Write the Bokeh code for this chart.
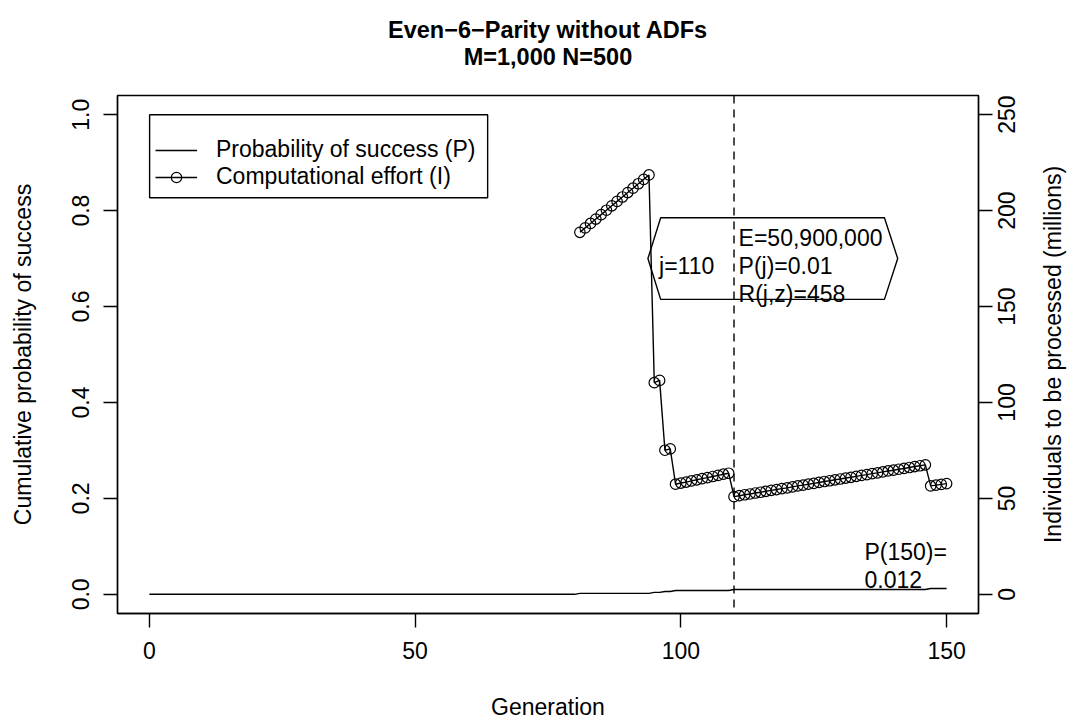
import math
from bokeh.plotting import figure
from bokeh.models import (Range1d, LinearAxis, FixedTicker, NumeralTickFormatter,
                          CustomJSTickFormatter, Span, Label, PolyAnnotation,
                          BoxAnnotation, Legend, LegendItem)
from bokeh.embed import file_html
from bokeh.resources import INLINE

# ---------------- data ----------------
generation = list(range(0, 151))
prob_success = [
    0, 0, 0, 0, 0, 0, 0, 0, 0, 0, 0, 0, 0, 0, 0, 0, 0, 0, 0, 0,
    0, 0, 0, 0, 0, 0, 0, 0, 0, 0, 0, 0, 0, 0, 0, 0, 0, 0, 0, 0,
    0, 0, 0, 0, 0, 0, 0, 0, 0, 0, 0, 0, 0, 0, 0, 0, 0, 0, 0, 0,
    0, 0, 0, 0, 0, 0, 0, 0, 0, 0, 0, 0, 0, 0, 0, 0, 0, 0, 0, 0,
    0,                                                   # gen 80
    0.002, 0.002, 0.002, 0.002, 0.002, 0.002, 0.002,     # 81-87
    0.002, 0.002, 0.002, 0.002, 0.002, 0.002, 0.002,     # 88-94
    0.004, 0.004,                                        # 95-96
    0.006, 0.006,                                        # 97-98
    0.008, 0.008, 0.008, 0.008, 0.008, 0.008,            # 99-104
    0.008, 0.008, 0.008, 0.008, 0.008,                   # 105-109
    0.010, 0.010, 0.010, 0.010, 0.010, 0.010, 0.010, 0.010, 0.010, 0.010,  # 110-119
    0.010, 0.010, 0.010, 0.010, 0.010, 0.010, 0.010, 0.010, 0.010, 0.010,  # 120-129
    0.010, 0.010, 0.010, 0.010, 0.010, 0.010, 0.010, 0.010, 0.010, 0.010,  # 130-139
    0.010, 0.010, 0.010, 0.010, 0.010, 0.010, 0.010,                      # 140-146
    0.012, 0.012, 0.012, 0.012,                                            # 147-150
]
effort_generation = list(range(81, 151))
effort_millions = [
    188.7, 191.0, 193.3, 195.6, 197.9, 200.2, 202.5, 204.8, 207.1, 209.4,  # 81-90
    211.7, 214.0, 216.3, 218.6,                                            # 91-94
    110.3, 111.5,                                                          # 95-96
    75.1, 75.8,                                                            # 97-98
    57.4, 58.0, 58.5, 59.1, 59.7, 60.3, 60.8, 61.4, 62.0, 62.6, 63.1,      # 99-109
    50.9, 51.4, 51.9, 52.3, 52.8, 53.2, 53.7, 54.2, 54.6, 55.1,            # 110-119
    55.5, 56.0, 56.5, 56.9, 57.4, 57.8, 58.3, 58.8, 59.2, 59.7,            # 120-129
    60.1, 60.6, 61.0, 61.5, 62.0, 62.4, 62.9, 63.3, 63.8, 64.3,            # 130-139
    64.7, 65.2, 65.6, 66.1, 66.6, 67.0, 67.5,                              # 140-146
    56.5, 56.9, 57.3, 57.7,                                                # 147-150
]
x_ticks = [0, 50, 100, 150]
y_ticks = [0.0, 0.2, 0.4, 0.6, 0.8, 1.0]
y2_ticks = [0, 50, 100, 150, 200, 250]
best_gen = 110
best_E = "50,900,000"
best_P = "0.01"
best_R = "458"
final_gen = 150
final_P = "0.012"

title_lines = ["Even\u22126\u2212Parity without ADFs", "M=1,000 N=500"]
x_label = "Generation"
y_label = "Cumulative probability of success"
y2_label = "Individuals to be processed (millions)"
legend_labels = ["Probability of success (P)", "Computational effort (I)"]

# ---------------- layout ----------------
FONT = "Liberation Sans"
FS = "23px"
FS_PX = 23.0
W, H = 1082, 726
BL, BR, BT, BB = 117, 99, 95, 113
XR = (-6, 156)
YR = (-0.04, 1.04)
Y2R = (-10, 260)
LW = 1.4
FRAME_H = H - BT - BB
X_MID = (XR[0] + XR[1]) / 2
Y2_PER_PX = (Y2R[1] - Y2R[0]) / FRAME_H


def rx(px):  # page px -> data x
    return XR[0] + (px - BL) / (W - BL - BR) * (XR[1] - XR[0])


def ry(py):  # page px -> data y
    return YR[1] - (py - BT) / FRAME_H * (YR[1] - YR[0])


def text_len_px(s):
    """Approximate advance of a string in Liberation Sans (Arial metrics)."""
    widths = {"0": .556, "1": .556, "2": .556, "5": .556, " ": .278, "(": .333,
              ")": .333, "I": .278, "i": .222, "l": .222, "t": .278, "r": .333,
              "m": .833, "v": .5, "s": .5, "c": .5}
    return sum(widths.get(ch, .556) for ch in s) * FS_PX


p = figure(width=W, height=H, x_range=Range1d(*XR), y_range=Range1d(*YR),
           output_backend="svg", toolbar_location=None,
           min_border_left=BL, min_border_right=BR,
           min_border_top=BT, min_border_bottom=BB)
p.extra_y_ranges = {"effort": Range1d(*Y2R)}
p.xgrid.grid_line_color = None
p.ygrid.grid_line_color = None
p.background_fill_color = "white"
p.border_fill_color = "white"
p.outline_line_color = "black"
p.outline_line_width = LW


def style_axis(ax, standoff, size=FS, bold=False):
    ax.axis_line_color = "black"
    ax.axis_line_width = LW
    ax.major_tick_line_color = "black"
    ax.major_tick_line_width = LW
    ax.major_tick_out = 14
    ax.major_tick_in = 0
    ax.minor_tick_line_color = None
    ax.major_label_text_font = FONT
    ax.major_label_text_font_size = size
    ax.major_label_text_font_style = "bold" if bold else "normal"
    ax.major_label_text_color = "black"
    ax.major_label_standoff = standoff
    ax.axis_label_text_font = FONT
    ax.axis_label_text_font_size = size
    ax.axis_label_text_font_style = "normal"
    ax.axis_label_text_color = "black"


p.xaxis.ticker = FixedTicker(ticks=x_ticks)
p.yaxis[0].ticker = FixedTicker(ticks=y_ticks)
p.yaxis[0].formatter = NumeralTickFormatter(format="0.0")
style_axis(p.xaxis[0], 14)
style_axis(p.yaxis[0], 14)
p.yaxis[0].major_label_orientation = "parallel"

p.xaxis[0].axis_label = x_label
p.xaxis[0].axis_label_standoff = 32
p.yaxis[0].axis_label = y_label
p.yaxis[0].axis_label_standoff = 34

# right axis: tick marks only (labels are drawn by a bare axis just outside it)
right_axis = LinearAxis(y_range_name="effort", ticker=FixedTicker(ticks=y2_ticks),
                        formatter=CustomJSTickFormatter(code="return ''"))
style_axis(right_axis, 0)
p.add_layout(right_axis, "right")


def text_axis(side, labels, standoff, size=FS, bold=False, orientation="horizontal",
              range_name=None):
    """A bare axis that only carries text labels at the given positions."""
    kw = {"y_range_name": range_name} if range_name else {}
    ax = LinearAxis(ticker=FixedTicker(ticks=list(labels.keys())),
                    major_label_overrides=labels, **kw)
    style_axis(ax, standoff, size=size, bold=bold)
    ax.axis_line_color = None
    ax.major_tick_line_color = None
    ax.major_tick_out = 0
    ax.major_label_orientation = orientation
    p.add_layout(ax, side)
    return ax


# Bokeh starts bottom-up rotated labels at their anchor; shift each anchor down
# by half its text length so the labels sit centred on their ticks like R's.
right_tick_labels = {t - text_len_px(str(t)) / 2 * Y2_PER_PX: str(t) for t in y2_ticks}
text_axis("right", right_tick_labels, 14, orientation=math.pi / 2, range_name="effort")
y2_mid = (Y2R[0] + Y2R[1]) / 2
text_axis("right", {y2_mid - text_len_px(y2_label) / 2 * Y2_PER_PX: y2_label}, 27,
          orientation=math.pi / 2, range_name="effort")

# two-line bold main title (inner line first)
text_axis("above", {X_MID: title_lines[1]}, 26, size="23.5px", bold=True)
text_axis("above", {X_MID: title_lines[0]}, -2, size="23.5px", bold=True)

# ---------------- data glyphs ----------------
p_line = p.line(generation, prob_success, line_color="black", line_width=LW)
e_line = p.line(effort_generation, effort_millions, line_color="black",
                line_width=LW, y_range_name="effort")
e_pts = p.scatter(effort_generation, effort_millions, marker="circle", size=10.5,
                  fill_alpha=0, line_color="black", line_width=1.2,
                  y_range_name="effort")

p.add_layout(Span(location=best_gen, dimension="height", line_color="black",
                  line_width=LW, line_dash="8 6"))

# annotation shape around the best generation
hx = [best_gen - 16.2, best_gen - 13.8, best_gen + 28.3, best_gen + 30.8,
      best_gen + 28.3, best_gen - 13.8]
hy = [0.70, 0.785, 0.785, 0.70, 0.615, 0.615]
p.add_layout(PolyAnnotation(xs=hx, ys=hy, fill_alpha=0, line_color="black",
                            line_alpha=1.0, line_width=LW))


def label(x, y, text, align="left", size=FS):
    p.add_layout(Label(x=x, y=y, text=text, text_align=align,
                       text_baseline="alphabetic", text_font=FONT,
                       text_font_size=size, text_color="black"))


label(rx(661.7), ry(265), f"j={best_gen}")
label(rx(741.7), ry(237.3), f"E={best_E}")
label(rx(741.7), ry(265), f"P(j)={best_P}")
label(rx(741.7), ry(293.3), f"R(j,z)={best_R}")
label(rx(868.3), ry(551), f"P({final_gen})=")
label(rx(868.3), ry(579), final_P)

# legend (frame drawn separately to match R's box)
p.add_layout(BoxAnnotation(left=rx(149.3), right=rx(489.3), top=ry(114.3),
                           bottom=ry(197.3), fill_alpha=0, line_color="black",
                           line_alpha=1.0, line_width=LW))
legend = Legend(items=[LegendItem(label=legend_labels[0], renderers=[p_line]),
                       LegendItem(label=legend_labels[1], renderers=[e_line, e_pts])],
                location=(38, 423), orientation="vertical",
                padding=6, spacing=0, margin=0,
                glyph_width=42, glyph_height=26, label_height=26,
                label_standoff=19, label_text_font=FONT, label_text_font_size=FS,
                label_text_color="black",
                border_line_color=None, background_fill_alpha=0)
p.add_layout(legend, "center")

open("out.html", "w").write(file_html(p, INLINE))
